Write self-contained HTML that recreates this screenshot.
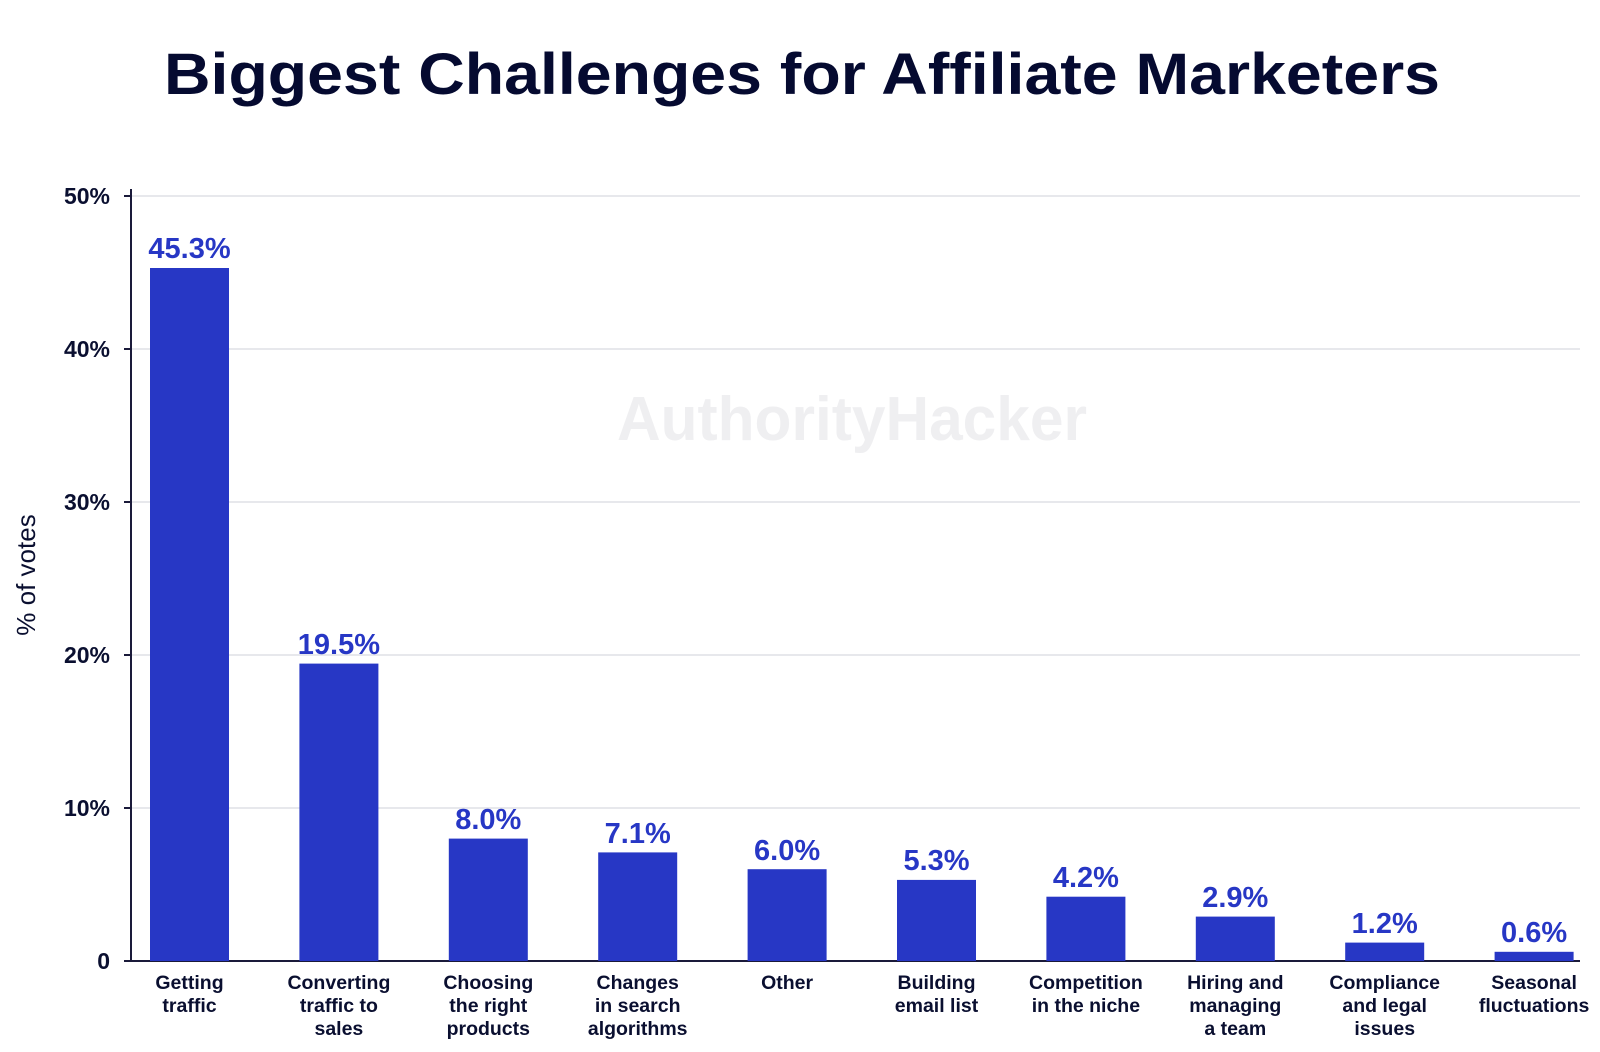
<!DOCTYPE html>
<html><head><meta charset="utf-8"><style>
html,body{margin:0;padding:0;background:#fff;}
svg{display:block;font-family:"Liberation Sans",sans-serif;}
</style></head><body>
<svg width="1600" height="1052" viewBox="0 0 1600 1052">
<text x="802" y="94" text-anchor="middle" font-size="58" font-weight="bold" fill="#050a30" textLength="1276" lengthAdjust="spacingAndGlyphs">Biggest Challenges for Affiliate Marketers</text>
<text x="852" y="440" text-anchor="middle" font-size="62" font-weight="bold" fill="#efeff1" textLength="470" lengthAdjust="spacingAndGlyphs">AuthorityHacker</text>
<g stroke="#cfd0da" stroke-width="1">
<line x1="131" y1="196" x2="1580" y2="196"/>
<line x1="131" y1="349" x2="1580" y2="349"/>
<line x1="131" y1="502" x2="1580" y2="502"/>
<line x1="131" y1="655" x2="1580" y2="655"/>
<line x1="131" y1="808" x2="1580" y2="808"/>
</g>
<g stroke="#1a1a3a" stroke-width="2">
<line x1="131" y1="189" x2="131" y2="961"/>
<line x1="131" y1="961" x2="1580" y2="961"/>
<line x1="124" y1="196" x2="131" y2="196"/>
<line x1="124" y1="349" x2="131" y2="349"/>
<line x1="124" y1="502" x2="131" y2="502"/>
<line x1="124" y1="655" x2="131" y2="655"/>
<line x1="124" y1="808" x2="131" y2="808"/>
<line x1="124" y1="961" x2="131" y2="961"/>
</g>
<g font-size="23" font-weight="bold" fill="#0a0f30" text-anchor="end">
<text x="110" y="204">50%</text>
<text x="110" y="357">40%</text>
<text x="110" y="510">30%</text>
<text x="110" y="663">20%</text>
<text x="110" y="816">10%</text>
<text x="110" y="969">0</text>
</g>
<text transform="translate(35,575) rotate(-90)" text-anchor="middle" font-size="26" fill="#0a0f30">% of votes</text>
<g fill="#2737c5">
<rect x="150" y="268" width="79" height="693"/>
<rect x="299.4" y="663.6" width="79" height="297.4"/>
<rect x="448.8" y="838.6" width="79" height="122.4"/>
<rect x="598.2" y="852.4" width="79" height="108.6"/>
<rect x="747.6" y="869.2" width="79" height="91.8"/>
<rect x="897" y="879.9" width="79" height="81.1"/>
<rect x="1046.4" y="896.7" width="79" height="64.3"/>
<rect x="1195.8" y="916.6" width="79" height="44.4"/>
<rect x="1345.2" y="942.6" width="79" height="18.4"/>
<rect x="1494.6" y="951.8" width="79" height="9.2"/>
</g>
<g font-size="29" font-weight="bold" fill="#2737c5" text-anchor="middle">
<text x="189.5" y="258">45.3%</text>
<text x="338.9" y="654">19.5%</text>
<text x="488.3" y="829">8.0%</text>
<text x="637.7" y="843">7.1%</text>
<text x="787.1" y="860">6.0%</text>
<text x="936.5" y="870">5.3%</text>
<text x="1085.9" y="887">4.2%</text>
<text x="1235.3" y="907">2.9%</text>
<text x="1384.7" y="933">1.2%</text>
<text x="1534.1" y="942">0.6%</text>
</g>
<g font-size="19.5" font-weight="bold" fill="#0a0f30" text-anchor="middle">
<text x="189.5" y="989">Getting</text><text x="189.5" y="1012">traffic</text>
<text x="338.9" y="989">Converting</text><text x="338.9" y="1012">traffic to</text><text x="338.9" y="1035">sales</text>
<text x="488.3" y="989">Choosing</text><text x="488.3" y="1012">the right</text><text x="488.3" y="1035">products</text>
<text x="637.7" y="989">Changes</text><text x="637.7" y="1012">in search</text><text x="637.7" y="1035">algorithms</text>
<text x="787.1" y="989">Other</text>
<text x="936.5" y="989">Building</text><text x="936.5" y="1012">email list</text>
<text x="1085.9" y="989">Competition</text><text x="1085.9" y="1012">in the niche</text>
<text x="1235.3" y="989">Hiring and</text><text x="1235.3" y="1012">managing</text><text x="1235.3" y="1035">a team</text>
<text x="1384.7" y="989">Compliance</text><text x="1384.7" y="1012">and legal</text><text x="1384.7" y="1035">issues</text>
<text x="1534.1" y="989">Seasonal</text><text x="1534.1" y="1012">fluctuations</text>
</g>
</svg>
</body></html>
